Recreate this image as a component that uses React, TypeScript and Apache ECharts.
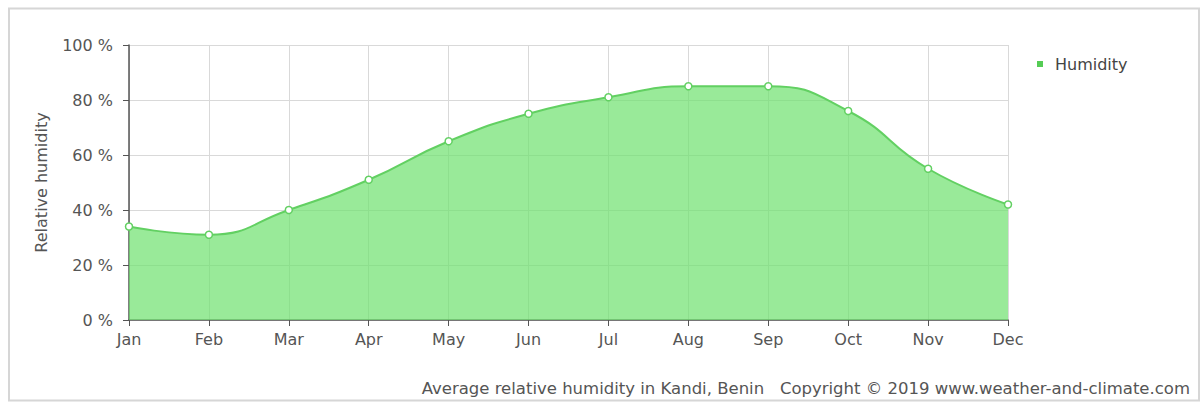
import React, { useEffect, useRef } from "react";
import * as echarts from "echarts";

const months = ["Jan", "Feb", "Mar", "Apr", "May", "Jun", "Jul", "Aug", "Sep", "Oct", "Nov", "Dec"];
const humidity = [34, 31, 40, 51, 65, 75, 81, 85, 85, 76, 55, 42];
const yTicks = [0, 20, 40, 60, 80, 100];
const seriesName = "Humidity";
const yAxisTitle = "Relative humidity";
const footer = "Average relative humidity in Kandi, Benin   Copyright \u00a9 2019 www.weather-and-climate.com";

export default function App() {
  const ref = useRef<HTMLDivElement>(null);
  useEffect(() => {
    const chart = echarts.init(ref.current!, undefined, { renderer: "svg" });
    const font = "DejaVu Sans, Verdana, sans-serif";
    chart.setOption({
      animation: false,
      textStyle: { fontFamily: font },
      graphic: [
        {
          type: "rect",
          shape: { x: 9, y: 8.5, width: 1190, height: 392 },
          style: { fill: "none", stroke: "#d6d6d6", lineWidth: 2 },
          silent: true,
        },
        {
          type: "text",
          right: 14,
          top: 380,
          style: { text: footer, fill: "#555", font: `16.5px ${font}` },
        },
      ],
      legend: {
        data: [seriesName],
        left: 1032,
        top: 51,
        icon: "rect",
        itemWidth: 6,
        itemHeight: 6,
        itemGap: 10,
        itemStyle: { color: "#55cc55", borderWidth: 0 },
        textStyle: { color: "#444", fontSize: 16, fontFamily: font, padding: [0, 0, 0, 7] },
      },
      grid: { left: 129, top: 45, width: 879, height: 275, containLabel: false },
      xAxis: {
        type: "category",
        data: months,
        boundaryGap: false,
        axisLine: { lineStyle: { color: "#555", width: 1.5 } },
        axisTick: { show: true, length: 6, lineStyle: { color: "#555" }, alignWithLabel: true },
        axisLabel: { color: "#555", fontSize: 16, margin: 11, fontFamily: font },
        splitLine: { show: true, lineStyle: { color: "#d9d9d9", width: 1 } },
      },
      yAxis: {
        type: "value",
        min: yTicks[0],
        max: yTicks[yTicks.length - 1],
        interval: 20,
        name: yAxisTitle,
        nameLocation: "middle",
        nameGap: 80,
        nameTextStyle: { color: "#555", fontSize: 16, fontFamily: font },
        axisLine: { show: true, lineStyle: { color: "#555", width: 1.5 } },
        axisTick: { show: true, length: 6, lineStyle: { color: "#555" } },
        axisLabel: { color: "#555", fontSize: 16, margin: 16, formatter: "{value} %", fontFamily: font },
        splitLine: { show: true, lineStyle: { color: "#d9d9d9", width: 1 } },
      },
      series: [
        {
          name: seriesName,
          type: "line",
          data: humidity,
          smooth: 0.5,
          symbol: "circle",
          symbolSize: 7,
          itemStyle: { color: "#ffffff", borderColor: "#62d062", borderWidth: 1.5 },
          lineStyle: { color: "#62d062", width: 2 },
          areaStyle: { color: "#6ee16e", opacity: 0.7 },
          z: 1,
        },
      ],
    });
    return () => chart.dispose();
  }, []);
  return (
    <div
      ref={ref}
      style={{ position: "fixed", left: 0, top: 0, width: 1204, height: 403, background: "#fff" }}
    />
  );
}
